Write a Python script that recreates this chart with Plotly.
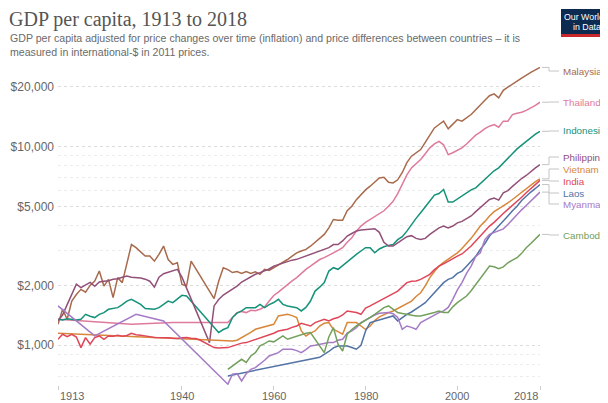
import math
import plotly.graph_objects as go

# ---------------- data (GDP per capita, int.-$ 2011) ----------------
malaysia_years = [1913,1914,1915,1916,1917,1918,1919,1920,1921,1922,1923,1924,1925,1926,1927,1928,1929,1930,1931,1932,1933,1934,1935,1936,1937,1938,1939,1940,1941,1942,1947,1948,1949,1950,1951,1952,1953,1954,1955,1956,1957,1958,1959,1960,1961,1962,1963,1964,1965,1966,1967,1968,1969,1970,1971,1972,1973,1974,1975,1976,1977,1978,1979,1980,1981,1982,1983,1984,1985,1986,1987,1988,1989,1990,1991,1992,1993,1994,1995,1996,1997,1998,1999,2000,2001,2002,2003,2004,2005,2006,2007,2008,2009,2010,2011,2012,2013,2014,2015,2016,2017,2018]
malaysia_gdp = [1275,1517,1351,1669,1800,1911,1850,2000,2104,2362,1985,2144,1737,2189,2066,2600,3212,3097,2950,2810,2810,2650,2866,3155,2700,2552,2602,2025,1985,2650,1716,2100,2456,2400,2321,2350,2300,2350,2300,2340,2275,2410,2380,2456,2520,2602,2700,2810,2918,2980,3036,3150,3286,3450,3612,3897,4293,4250,4250,4750,5007,5400,5742,6050,6313,6600,6950,7000,6600,6560,6800,7400,8300,8940,9300,9649,10500,11475,12400,12900,13413,12280,13000,13650,13413,13900,14483,15300,16254,17100,18000,18400,17560,19170,19900,20700,21300,22080,22900,23600,24300,25000]

thailand_years = [1913,1929,1938,1950,1951,1952,1953,1954,1955,1956,1957,1958,1959,1960,1961,1962,1963,1964,1965,1966,1967,1968,1969,1970,1971,1972,1973,1974,1975,1976,1977,1978,1979,1980,1981,1982,1983,1984,1985,1986,1987,1988,1989,1990,1991,1992,1993,1994,1995,1996,1997,1998,1999,2000,2001,2002,2003,2004,2005,2006,2007,2008,2009,2010,2011,2012,2013,2014,2015,2016,2017,2018]
thailand_gdp = [1351,1275,1300,1300,1380,1460,1480,1460,1500,1490,1517,1560,1669,1780,1850,1940,2030,2110,2189,2300,2410,2500,2602,2700,2758,2850,2918,3000,3097,3300,3474,3750,3977,4150,4293,4420,4554,4750,5007,5300,5800,6500,7200,7800,8200,8603,9200,9840,10300,10620,10200,9105,9300,9600,9840,10300,10850,11400,11800,12300,12650,12900,12500,13413,13413,14483,14700,14870,15200,15600,16100,16700]

indonesia_years = [1913,1914,1915,1916,1917,1918,1919,1920,1921,1922,1923,1924,1925,1926,1927,1928,1929,1930,1931,1932,1933,1934,1935,1936,1937,1938,1939,1940,1941,1948,1949,1950,1951,1952,1953,1954,1955,1956,1957,1958,1959,1960,1961,1962,1963,1964,1965,1966,1967,1968,1969,1970,1971,1972,1973,1974,1975,1976,1977,1978,1979,1980,1981,1982,1983,1984,1985,1986,1987,1988,1989,1990,1991,1992,1993,1994,1995,1996,1997,1998,1999,2000,2001,2002,2003,2004,2005,2006,2007,2008,2009,2010,2011,2012,2013,2014,2015,2016,2017,2018]
indonesia_gdp = [1351,1340,1360,1345,1340,1351,1431,1400,1378,1431,1460,1517,1530,1546,1600,1669,1702,1660,1606,1530,1517,1517,1546,1600,1669,1638,1700,1783,1769,1158,1200,1227,1378,1450,1488,1546,1546,1546,1606,1546,1600,1640,1702,1606,1577,1560,1546,1488,1550,1669,1873,1960,2066,2362,2456,2410,2520,2650,2760,2866,2980,3097,3097,2918,3050,3130,3180,3212,3400,3516,3750,4055,4350,4645,5000,5317,5700,5800,6078,5254,5254,5450,5627,5850,6050,6196,6500,6800,7200,7550,7807,8250,8766,9250,9730,10150,10620,11100,11550,11930]

philippines_years = [1913,1914,1915,1916,1917,1918,1919,1920,1921,1922,1923,1924,1925,1926,1927,1928,1929,1930,1931,1932,1933,1934,1935,1936,1937,1938,1939,1940,1946,1947,1948,1949,1950,1951,1952,1953,1954,1955,1956,1957,1958,1959,1960,1961,1962,1963,1964,1965,1966,1967,1968,1969,1970,1971,1972,1973,1974,1975,1976,1977,1978,1979,1980,1981,1982,1983,1984,1985,1986,1987,1988,1989,1990,1991,1992,1993,1994,1995,1996,1997,1998,1999,2000,2001,2002,2003,2004,2005,2006,2007,2008,2009,2010,2011,2012,2013,2014,2015,2016,2017,2018]
philippines_gdp = [1330,1420,1600,1800,2030,1950,2000,2070,1980,2080,2100,2110,2150,2160,2200,2230,2200,2190,2180,2150,2100,1960,2200,2290,2330,2380,2410,2200,1031,1577,1700,1790,1850,1930,1985,2080,2144,2200,2275,2320,2362,2420,2502,2550,2602,2650,2680,2705,2760,2810,2870,2918,2980,3036,3097,3212,3212,3350,3546,3650,3755,3800,3829,3860,3860,3700,3300,3155,3155,3270,3400,3516,3560,3450,3410,3450,3612,3750,3897,3977,3897,3980,4130,4200,4330,4473,4700,4918,5150,5413,5500,5370,5846,6000,6300,6600,6900,7150,7500,7800,8103]

vietnam_years = [1913,1929,1938,1950,1951,1952,1953,1954,1955,1956,1957,1958,1959,1960,1961,1962,1963,1964,1965,1966,1967,1968,1969,1970,1971,1972,1973,1974,1975,1976,1977,1978,1979,1980,1981,1982,1983,1984,1985,1986,1987,1988,1989,1990,1991,1992,1993,1994,1995,1996,1997,1998,1999,2000,2001,2002,2003,2004,2005,2006,2007,2008,2009,2010,2011,2012,2013,2014,2015,2016,2017,2018]
vietnam_gdp = [1150,1110,1085,1051,1050,1060,1090,1120,1160,1203,1220,1240,1255,1275,1404,1420,1431,1410,1378,1180,1114,1150,1180,1250,1290,1300,1203,1170,1136,1300,1300,1300,1250,1203,1250,1330,1390,1431,1460,1488,1530,1577,1620,1669,1760,1838,1990,2189,2350,2502,2610,2705,2800,2918,3070,3250,3450,3700,3977,4200,4473,4700,4850,5007,5200,5413,5650,5900,6150,6400,6650,6875]

india_years = list(range(1913, 2019))
india_gdp = [1072,1136,1105,1136,1100,973,1093,1012,1093,1114,1072,1114,1110,1123,1110,1120,1149,1130,1123,1110,1105,1095,1093,1100,1090,1085,1080,1090,1093,1085,1080,1060,1030,992,973,970,975,973,990,1012,1025,1031,1050,1072,1090,1114,1125,1150,1180,1190,1203,1230,1250,1290,1270,1250,1300,1330,1351,1325,1360,1378,1420,1488,1480,1460,1431,1540,1577,1620,1669,1720,1769,1820,1873,1960,2066,2100,2104,2144,2200,2275,2400,2502,2570,2650,2750,2810,2880,3000,3155,3350,3546,3750,3977,4150,4385,4600,4828,5050,5300,5550,5850,6150,6450,6750]

laos_years = [1950,1970,1972,1973,1974,1975,1976,1977,1978,1979,1980,1981,1982,1983,1984,1985,1986,1987,1988,1989,1990,1991,1992,1993,1994,1995,1996,1997,1998,1999,2000,2001,2002,2003,2004,2005,2006,2007,2008,2009,2010,2011,2012,2013,2014,2015,2016,2017,2018]
laos_gdp = [701,870,930,970,992,992,992,975,955,1000,1180,1300,1320,1340,1351,1380,1404,1325,1380,1431,1470,1517,1577,1638,1737,1838,1950,2066,2144,2189,2300,2362,2500,2650,2800,3036,3250,3546,3750,3977,4200,4473,4750,5007,5350,5650,5900,6150,6432]

myanmar_years = [1913,1921,1930,1936,1950,1951,1952,1953,1954,1955,1956,1957,1958,1959,1960,1961,1962,1963,1964,1965,1966,1967,1968,1969,1970,1971,1972,1973,1974,1975,1976,1977,1978,1979,1980,1981,1982,1983,1984,1985,1986,1987,1988,1989,1990,1991,1992,1993,1994,1995,1996,1997,1998,1999,2000,2001,2002,2003,2004,2005,2006,2007,2008,2009,2010,2011,2012,2013,2014,2015,2016,2017,2018]
myanmar_gdp = [1577,1114,1431,1325,637,715,720,661,720,757,772,803,840,883,900,918,955,955,955,940,918,950,992,1000,1012,1020,1031,1031,1060,1072,1150,1180,1227,1300,1340,1378,1420,1450,1460,1460,1440,1380,1203,1250,1230,1203,1300,1340,1378,1420,1460,1488,1550,1702,1900,2066,2300,2502,2800,2918,3400,3612,3700,3755,3850,4050,4300,4554,4800,5050,5300,5600,5895]

cambodia_years = list(range(1950, 2019))
cambodia_gdp = [757,787,819,850,819,883,918,992,1020,1051,1040,1080,1114,1072,1090,1114,1130,1150,1158,1072,1000,918,1100,1227,1012,936,1136,1200,1250,1290,1325,1380,1431,1490,1546,1577,1520,1460,1445,1431,1420,1404,1404,1420,1431,1460,1488,1460,1460,1560,1638,1700,1769,1880,2025,2180,2322,2502,2480,2428,2480,2600,2680,2758,2900,3097,3250,3420,3612]

countries = ["Malaysia", "Thailand", "Indonesia", "Philippines", "Vietnam", "India", "Laos", "Myanmar", "Cambodia"]
series_years = [malaysia_years, thailand_years, indonesia_years, philippines_years, vietnam_years, india_years, laos_years, myanmar_years, cambodia_years]
series_values = [malaysia_gdp, thailand_gdp, indonesia_gdp, philippines_gdp, vietnam_gdp, india_gdp, laos_gdp, myanmar_gdp, cambodia_gdp]

x_tick_vals = [1913, 1940, 1960, 1980, 2000, 2018]
x_tick_text = ["1913", "1940", "1960", "1980", "2000", "2018"]
y_tick_vals = [1000, 2000, 5000, 10000, 20000]
y_tick_text = ["$1,000", "$2,000", "$5,000", "$10,000", "$20,000"]
y_minor_vals = [700, 800, 900, 3000, 4000, 6000, 7000, 8000, 9000]

# ---------------- styling ----------------
colors = ["#a86a4c", "#de7a9c", "#15927a", "#925079", "#d8873a", "#df4658", "#5273a4", "#a57ac6", "#73a05c"]
label_px = [71, 102, 131, 157, 169, 181, 193, 204, 235]   # label rows, in page pixels

OFF = 8                      # page body margin
W, H = 600, 395              # figure size (page is 608x403 incl. margin)
L, R, T, B = 50, 68, 59, 18
PW, PH = W - L - R, H - T - B
YR = [2.80, 4.40]

def pxx(x):
    """page pixel x -> paper x"""
    return (x - OFF - L) / PW

def pxy(y):
    """page pixel y -> paper y"""
    return (H - B - (y - OFF)) / PH

def val_to_page_y(v):
    return OFF + T + (YR[1] - math.log10(v)) / (YR[1] - YR[0]) * PH

fig = go.Figure()
for name, xs, ys, c in zip(countries, series_years, series_values, colors):
    fig.add_trace(go.Scatter(x=xs, y=ys, mode="lines", name=name,
                             line=dict(color=c, width=1.5), showlegend=False,
                             hoverinfo="skip"))

annotations = []
shapes = []

# title / subtitle
annotations.append(dict(text="GDP per capita, 1913 to 2018", xref="paper", yref="paper",
                        x=pxx(8), y=pxy(19), xanchor="left", yanchor="middle", showarrow=False,
                        borderpad=0,
                        font=dict(family="Liberation Serif", size=20, color="#555555")))
annotations.append(dict(text="GDP per capita adjusted for price changes over time (inflation) and price differences between countries – it is<br>measured in international-$ in 2011 prices.",
                        xref="paper", yref="paper", x=pxx(8), y=pxy(30), xanchor="left", yanchor="top",
                        align="left", showarrow=False,
                        font=dict(family="Liberation Sans", size=10.6, color="#6a6a6a")))

# logo
shapes.append(dict(type="rect", xref="paper", yref="paper", x0=pxx(561), x1=pxx(612), y0=pxy(37), y1=pxy(9),
                   fillcolor="#0d2b50", line=dict(width=0), layer="above"))
shapes.append(dict(type="rect", xref="paper", yref="paper", x0=pxx(561), x1=pxx(612), y0=pxy(37), y1=pxy(34),
                   fillcolor="#c8282c", line=dict(width=0), layer="above"))
annotations.append(dict(text="Our World", xref="paper", yref="paper", x=pxx(563), y=pxy(17),
                        xanchor="left", yanchor="middle", showarrow=False, borderpad=0,
                        font=dict(family="Liberation Sans", size=8.8, color="white")))
annotations.append(dict(text="in Data", xref="paper", yref="paper", x=pxx(572), y=pxy(27),
                        xanchor="left", yanchor="middle", showarrow=False, borderpad=0,
                        font=dict(family="Liberation Sans", size=8.8, color="white")))

# x tick labels (edge labels are aligned inwards, as in the reference)
for v, t in zip(x_tick_vals, x_tick_text):
    anchor = "left" if v == x_tick_vals[0] else ("right" if v == x_tick_vals[-1] else "center")
    annotations.append(dict(text=t, xref="x", yref="paper", x=v, y=pxy(396), xanchor=anchor,
                            yanchor="middle", showarrow=False,
                            font=dict(family="Liberation Sans", size=11, color="#666666")))

# series labels + connectors
for name, ys, c, ly in zip(countries, series_values, colors, label_px):
    ey = val_to_page_y(ys[-1])
    annotations.append(dict(text=name, xref="paper", yref="paper", x=pxx(562), y=pxy(ly),
                            xanchor="left", yanchor="middle", showarrow=False, borderpad=0,
                            font=dict(family="Liberation Sans", size=9.8, color=c)))
    for (x0, y0, x1, y1) in [(542, ey, 549, ey), (549, ey, 549, ly), (549, ly, 559, ly)]:
        shapes.append(dict(type="line", xref="paper", yref="paper", x0=pxx(x0), x1=pxx(x1),
                           y0=pxy(y0), y1=pxy(y1), line=dict(color="#c4c4c4", width=1)))

fig.update_layout(
    width=W, height=H,
    margin=dict(l=L, r=R, t=T, b=B, pad=0),
    paper_bgcolor="white", plot_bgcolor="white",
    annotations=annotations, shapes=shapes,
    font=dict(family="Liberation Sans", color="#666666"),
    xaxis=dict(range=[1913, 2018], tickvals=x_tick_vals,
               ticktext=[""] * len(x_tick_vals),
               ticks="outside", ticklen=4, tickcolor="#cccccc", tickwidth=1,
               showgrid=False, zeroline=False, showline=False, automargin=False),
    yaxis=dict(type="log", range=YR, tickvals=y_tick_vals, ticktext=y_tick_text,
               showgrid=True, gridcolor="#dcdcdc", griddash="dot", gridwidth=1,
               minor=dict(tickvals=y_minor_vals, showgrid=True, gridcolor="#ececec",
                          griddash="dot", gridwidth=1, ticks=""),
               ticks="", zeroline=False, showline=False, automargin=False,
               ticklabelstandoff=3,
               tickfont=dict(size=12, color="#666666")),
)

fig.write_html("out.html")
